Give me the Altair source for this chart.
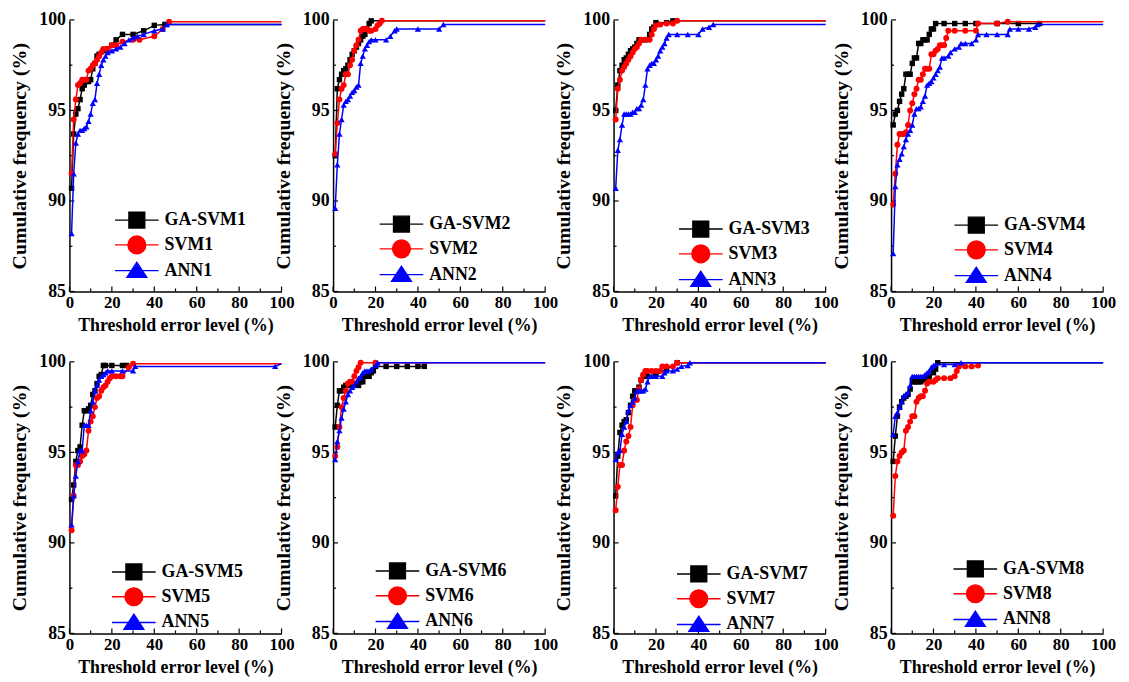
import altair as alt
import pandas as pd

# ---------------- data ----------------
ga1_x = [1,2,3,4,5,6,7,8,9,10,11,12,13,14,16,18,20,22,25,30,35,40,45,100]
ga1_y = [90.7,93.7,94.8,95.1,95.6,96.2,96.4,96.6,96.6,96.7,97.3,97.6,98.0,98.1,98.3,98.4,98.6,98.9,99.2,99.2,99.4,99.7,99.75,99.75]
svm1_x = [1,2,3,4,5,6,7,8,9,10,11,12,13,14,15,16,18,20,22,25,30,33,40,44,47,100]
svm1_y = [91.5,94.5,95.6,96.4,96.5,96.7,96.7,96.7,97.2,97.3,97.5,97.6,97.8,98.0,98.2,98.4,98.4,98.6,98.6,98.8,98.9,98.9,99.1,99.5,99.9,99.9]
ann1_x = [1,2,3,4,5,6,7,8,9,10,11,12,13,14,15,16,17,18,20,22,24,26,28,30,32,35,40,44,46,100]
ann1_y = [88.2,91.5,93.2,93.7,93.9,93.9,94.0,94.1,94.4,94.8,95.4,95.6,96.5,97.0,97.5,97.8,98.0,98.2,98.3,98.4,98.5,98.7,98.9,99.0,99.1,99.2,99.4,99.5,99.75,99.75]

ga2_x = [1,2,3,4,5,6,7,8,9,10,11,12,13,14,15,16,17,18,100]
ga2_y = [92.5,96.2,96.7,97.0,97.2,97.3,97.5,97.8,98.1,98.3,98.5,98.7,98.9,99.1,99.2,99.5,99.8,99.95,99.95]
svm2_x = [1,2,3,4,5,6,7,8,9,10,11,12,13,14,15,16,17,18,20,21,22,23,100]
svm2_y = [92.6,94.3,95.6,96.2,96.4,97.0,97.0,97.5,97.8,98.3,98.6,98.9,99.4,99.5,99.5,99.5,99.4,99.4,99.5,99.7,99.8,99.95,99.95]
ann2_x = [1,2,3,4,5,6,7,8,9,10,11,12,13,14,15,16,17,18,20,25,27,29,30,40,50,52,100]
ann2_y = [89.6,92.0,93.7,94.5,95.3,95.5,95.6,95.8,96.0,96.1,96.3,96.4,97.6,98.0,98.4,98.6,98.8,98.9,98.9,98.9,99.1,99.4,99.5,99.5,99.5,99.75,99.75]

ga3_x = [1,2,3,4,5,6,7,8,9,10,11,12,13,15,17,18,19,20,25,28,100]
ga3_y = [95.0,96.4,97.2,97.5,97.8,97.9,98.1,98.3,98.4,98.5,98.7,98.9,98.9,98.9,99.2,99.5,99.6,99.85,99.85,99.95,99.95]
svm3_x = [1,2,3,4,5,6,7,8,9,10,11,12,13,15,17,18,19,20,22,25,28,30,100]
svm3_y = [94.5,96.2,96.7,97.2,97.4,97.6,97.8,98.0,98.2,98.4,98.5,98.7,98.9,98.9,98.9,99.2,99.5,99.7,99.75,99.8,99.8,99.95,99.95]
ann3_x = [1,2,3,4,5,6,7,8,9,10,11,12,13,14,15,16,17,18,19,20,21,22,23,24,25,26,30,35,40,42,45,47,100]
ann3_y = [90.7,92.8,93.4,94.2,94.8,94.8,94.8,94.8,94.9,94.9,95.1,95.1,95.3,95.6,96.4,97.3,97.5,97.6,97.6,97.8,98.0,98.3,98.5,98.7,99.0,99.2,99.2,99.2,99.2,99.5,99.6,99.75,99.75]

ga4_x = [1,2,3,4,5,6,7,8,9,10,11,12,13,14,15,16,17,18,19,20,21,25,30,35,40,50,60,70]
ga4_y = [94.2,94.8,95.0,95.5,95.9,96.2,97.0,97.0,97.0,97.6,97.9,97.9,98.7,98.7,98.9,98.9,98.9,99.2,99.5,99.5,99.8,99.8,99.8,99.8,99.8,99.8,99.8,99.8]
svm4_x = [1,2,3,4,5,6,7,8,9,10,11,12,13,14,15,16,17,18,19,20,21,22,23,24,25,26,27,30,35,40,41,50,55,100]
svm4_y = [89.8,91.5,93.1,93.7,93.7,93.7,93.8,94.2,95.0,95.4,95.9,96.2,96.7,96.7,97.0,97.3,97.3,97.3,98.1,98.1,98.3,98.4,98.6,98.6,98.6,99.0,99.4,99.4,99.4,99.4,99.8,99.8,99.9,99.9]
ann4_x = [1,2,3,4,5,6,7,8,9,10,11,12,13,14,15,16,17,18,19,20,21,22,23,24,25,27,28,30,32,33,35,38,40,41,45,50,55,56,60,65,68,69,100]
ann4_y = [87.1,90.8,92.0,92.3,92.6,93.0,93.4,93.7,93.9,94.2,94.8,95.1,95.1,95.2,95.5,95.8,96.4,96.5,96.6,96.8,97.0,97.2,97.4,97.9,97.9,98.0,98.2,98.4,98.5,98.7,98.7,98.7,98.9,99.2,99.2,99.2,99.2,99.5,99.5,99.5,99.6,99.75,99.75]

ga5_x = [1,2,3,4,5,6,7,8,9,10,11,12,13,14,15,16,17,20,25,27]
ga5_y = [92.4,93.2,94.5,95.1,95.3,96.5,97.3,97.3,97.4,97.6,98.2,98.4,98.8,99.2,99.3,99.8,99.8,99.8,99.8,99.8]
svm5_x = [1,2,3,4,5,6,7,8,9,10,11,12,13,14,15,16,17,18,19,20,22,24,25,28,30,100]
svm5_y = [90.7,92.6,94.3,94.3,94.5,94.8,94.9,95.1,96.2,96.7,97.0,97.5,98.0,98.1,98.4,98.6,98.7,98.9,99.1,99.2,99.2,99.2,99.2,99.7,99.9,99.9]
ann5_x = [1,2,3,4,5,6,7,8,9,10,11,12,13,14,15,16,17,18,20,25,30,31,97,100]
ann5_y = [91.0,92.6,93.7,94.5,95.1,95.1,96.5,96.5,96.5,97.3,97.8,98.4,98.7,99.0,99.2,99.3,99.4,99.5,99.5,99.5,99.5,99.75,99.75,99.9]

ga6_x = [1,2,3,4,5,6,7,8,10,12,13,14,15,16,17,18,19,20,25,30,35,40,43]
ga6_y = [96.4,97.6,98.4,98.4,98.6,98.7,98.7,98.7,98.7,98.7,98.9,98.9,99.2,99.2,99.2,99.4,99.5,99.75,99.75,99.75,99.75,99.75,99.75]
svm6_x = [1,2,3,4,5,6,7,8,9,10,11,12,13,20,100]
svm6_y = [94.8,95.3,96.4,97.5,98.0,98.4,98.8,98.9,98.9,99.2,99.5,99.7,99.95,99.95,99.95]
ann6_x = [1,2,3,4,5,6,7,8,9,10,11,12,13,14,15,16,17,18,20,21,100]
ann6_y = [94.6,95.6,96.2,96.9,97.4,97.8,98.2,98.4,98.6,98.7,98.9,99.1,99.2,99.4,99.5,99.5,99.5,99.6,99.8,99.95,99.95]

ga7_x = [1,2,3,4,5,6,7,8,9,10,11,12,13,14,15,16,20,25,30,100]
ga7_y = [92.6,94.8,96.1,96.5,96.7,96.8,97.2,97.6,98.1,98.4,98.4,98.6,99.0,99.2,99.2,99.2,99.3,99.6,99.95,99.95]
svm7_x = [1,2,3,4,5,6,7,8,9,10,11,12,13,14,15,16,18,20,22,23,25,28,30,100]
svm7_y = [91.8,93.1,94.3,94.3,95.1,95.6,95.9,96.4,97.6,97.9,97.9,98.5,99.0,99.3,99.5,99.5,99.5,99.5,99.5,99.75,99.75,99.75,99.95,99.95]
ann7_x = [1,2,3,4,5,6,7,8,9,10,11,12,13,14,15,16,17,18,20,23,24,25,28,30,32,35,36,100]
ann7_y = [94.6,95.0,95.1,96.0,96.4,96.7,97.3,97.6,97.8,98.0,98.4,98.4,98.4,98.4,98.5,98.9,99.2,99.2,99.2,99.2,99.4,99.5,99.5,99.6,99.75,99.8,99.95,99.95]

ga8_x = [1,2,3,4,5,6,7,8,9,10,11,12,13,14,15,16,17,18,20,21,22,100]
ga8_y = [94.5,95.9,97.0,97.5,97.8,98.0,98.1,98.2,98.5,98.9,98.9,98.9,98.9,98.9,99.0,99.1,99.2,99.2,99.4,99.6,99.95,99.95]
svm8_x = [1,2,3,4,5,6,7,8,9,10,11,12,13,14,15,16,17,18,20,21,22,25,28,30,31,32,35,38,41]
svm8_y = [91.5,93.7,94.5,94.8,95.0,95.1,96.2,96.4,96.7,97.0,97.0,97.8,98.0,98.1,98.1,98.4,98.8,98.9,98.9,99.0,99.1,99.1,99.1,99.2,99.5,99.75,99.75,99.75,99.8]
ann8_x = [1,2,3,4,5,6,7,8,9,10,11,12,13,14,15,16,17,18,19,20,21,25,30,33,100]
ann8_y = [96.0,97.0,97.2,97.5,97.8,98.1,98.2,98.3,98.7,99.2,99.2,99.2,99.2,99.2,99.2,99.3,99.4,99.5,99.7,99.8,99.85,99.85,99.85,99.95,99.95]

models = ["GA-SVM", "SVM", "ANN"]
panels_data = [
    [(ga1_x, ga1_y), (svm1_x, svm1_y), (ann1_x, ann1_y)],
    [(ga2_x, ga2_y), (svm2_x, svm2_y), (ann2_x, ann2_y)],
    [(ga3_x, ga3_y), (svm3_x, svm3_y), (ann3_x, ann3_y)],
    [(ga4_x, ga4_y), (svm4_x, svm4_y), (ann4_x, ann4_y)],
    [(ga5_x, ga5_y), (svm5_x, svm5_y), (ann5_x, ann5_y)],
    [(ga6_x, ga6_y), (svm6_x, svm6_y), (ann6_x, ann6_y)],
    [(ga7_x, ga7_y), (svm7_x, svm7_y), (ann7_x, ann7_y)],
    [(ga8_x, ga8_y), (svm8_x, svm8_y), (ann8_x, ann8_y)],
]

x_major = [0, 20, 40, 60, 80, 100]
x_minor = [10, 30, 50, 70, 90]
y_major = [85, 90, 95, 100]
y_minor = [87.5, 92.5, 97.5]

# ---------------- styling / layout ----------------
FONT = "Liberation Serif"
W, H = 214, 274
COLORS = ["#000000", "#ff0000", "#0000ff"]
SHAPES = ["square", "circle", "triangle-up"]
PT_SIZES = [30, 36, 40]
LEG_SYM = 256  # 16 px base unit box; paths reach beyond it for the line
LEG_PATHS = [
    "M-2.75,0H2.75M-1,-1H1V1H-1Z",
    "M-2.75,0H2.75M1.12,0A1.12,1.12,0,1,1,-1.12,0A1.12,1.12,0,1,1,1.12,0Z",
    "M-2.75,0H2.75M0,-1.05L1.25,0.85L-1.25,0.85Z",
]
# legend anchor (relative to each plot area)
LEG_POS = [(59, 193), (60, 197), (79, 202), (77, 198),
           (56, 203), (56, 202), (77, 205), (76, 200)]

XS = alt.Scale(domain=[0, 100], nice=False, zero=False)
YS = alt.Scale(domain=[85, 100], nice=False, zero=False)
XAX = alt.Axis(values=x_major, ticks=False, grid=False, format="d",
               title="Threshold error level (%)", labelFont=FONT, labelFontSize=17,
               labelFontWeight="bold", labelColor="black", labelPadding=3,
               labelFlush=False, titleFont=FONT, titleFontSize=18,
               titleFontWeight="bold", titleColor="black", titlePadding=6,
               domainColor="black", domainWidth=1.5)
YAX = alt.Axis(values=y_major, ticks=False, grid=False, format="d",
               title="Cumulative frequency (%)", labelFont=FONT, labelFontSize=18,
               labelFontWeight="bold", labelColor="black", labelPadding=4,
               labelFlush=False, titleFont=FONT, titleFontSize=20,
               titleFontWeight="bold", titleColor="black", titlePadding=9,
               domainColor="black", domainWidth=1.5)


def xenc(field):
    return alt.X(field, type="quantitative", scale=XS, axis=XAX)


def yenc(field):
    return alt.Y(field, type="quantitative", scale=YS, axis=YAX)


def panel(k):
    layers = []
    # inward tick marks
    for vals, ln in ((x_major, 5), (x_minor, 3)):
        layers.append(alt.Chart(pd.DataFrame({"v": vals})).mark_rule(
            color="black", strokeWidth=1.2).encode(
            x=xenc("v"), y=alt.value(H), y2=alt.value(H - ln)))
    for vals, ln in ((y_major, 5), (y_minor, 3)):
        layers.append(alt.Chart(pd.DataFrame({"v": vals})).mark_rule(
            color="black", strokeWidth=1.2).encode(
            y=yenc("v"), x=alt.value(0), x2=alt.value(ln)))
    # series
    for i, (xs, ys) in enumerate(panels_data[k]):
        df = pd.DataFrame({"x": xs, "y": ys})
        base = alt.Chart(df)
        layers.append(base.mark_line(color=COLORS[i], strokeWidth=1.5).encode(
            x=xenc("x"), y=yenc("y")))
        layers.append(base.transform_filter("datum.x < 100").mark_point(
            shape=SHAPES[i], filled=True, color=COLORS[i], size=PT_SIZES[i],
            opacity=1).encode(x=xenc("x"), y=yenc("y")))
    # legend
    labels = [f"{m}{k + 1}" for m in models]
    lx, ly = LEG_POS[k]
    leg = alt.Legend(orient="none", legendX=lx, legendY=ly, title=None,
                     labelFont=FONT, labelFontSize=18, labelFontWeight="bold",
                     labelColor="black", symbolSize=LEG_SYM, symbolStrokeWidth=1.4,
                     symbolOpacity=1, labelOffset=19, rowPadding=2, padding=0)
    ldf = pd.DataFrame({"label": labels})
    layers.append(alt.Chart(ldf).mark_point(filled=True, opacity=0, size=LEG_SYM).encode(
        x=alt.value(0), y=alt.value(0),
        shape=alt.Shape("label:N", scale=alt.Scale(domain=labels, range=LEG_PATHS), legend=leg),
        fill=alt.Fill("label:N", scale=alt.Scale(domain=labels, range=COLORS), legend=leg),
        stroke=alt.Stroke("label:N", scale=alt.Scale(domain=labels, range=COLORS), legend=leg),
    ))
    return alt.layer(*layers).properties(width=W, height=H)


def spacer(w):
    return alt.Chart(pd.DataFrame({"a": [0]})).mark_point(opacity=0).encode(
        x=alt.value(0), y=alt.value(0)).properties(width=w, height=H)


gaps = [52, 69, 66]
cells = []
for row in range(2):
    for c in range(4):
        cells.append(panel(row * 4 + c))
        if c < 3:
            cells.append(spacer(gaps[c]))

chart = alt.concat(*cells, columns=7, spacing={"row": 71, "column": 0},
                   bounds="flush").resolve_scale(
    x="independent", y="independent", shape="independent",
    fill="independent", stroke="independent").resolve_legend(
    shape="independent", fill="independent", stroke="independent").configure_view(
    stroke=None).properties(padding={"left": 2, "top": 0, "right": 5, "bottom": 5},
                            background="white")

chart.save("out.html", embed_options={"renderer": "svg", "actions": False})
